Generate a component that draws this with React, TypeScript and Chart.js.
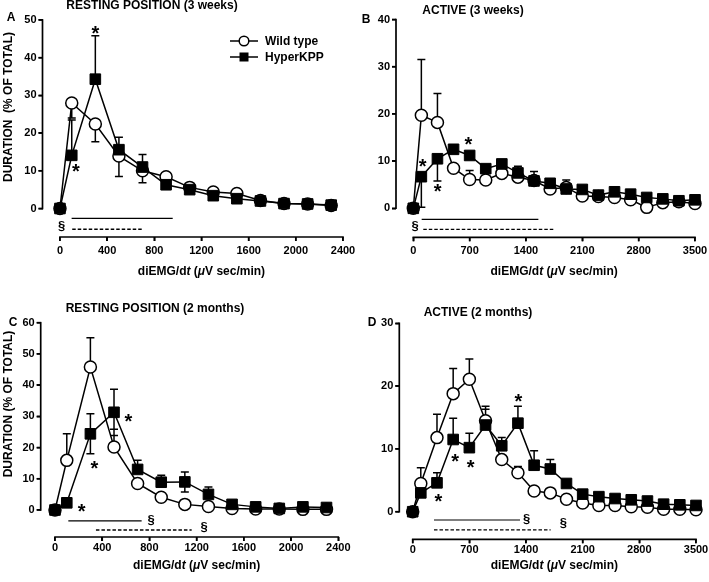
// Four-panel diEMG/dt duration figure (Wild type vs HyperKPP) - axes drawn as library datasets
import React, { useEffect, useRef } from "react";
import { Chart, registerables } from "chart.js";
Chart.register(...registerables);

const FONT = '"Liberation Sans", Arial, Helvetica, sans-serif';
const INK = "#000000";

// ---------- x positions & tick labels ----------
const xRest = [0, 100, 300, 500, 700, 900, 1100, 1300, 1500, 1700, 1900, 2100, 2300];
const xActive = [0, 100, 300, 500, 700, 900, 1100, 1300, 1500, 1700, 1900, 2100, 2300, 2500, 2700, 2900, 3100, 3300, 3500];
const xTicksRest = [0, 400, 800, 1200, 1600, 2000, 2400];
const xTicksActive = [0, 700, 1400, 2100, 2800, 3500];
const yTicksA = [0, 10, 20, 30, 40, 50];
const yTicksB = [0, 10, 20, 30, 40];
const yTicksC = [0, 10, 20, 30, 40, 50, 60];
const yTicksD = [0, 10, 20, 30];

// ---------- A: resting position, 3 weeks ----------
const aWild = [0, 28, 22.4, 13.9, 10, 8.4, 5.6, 4.4, 4.0, 2.1, 1.3, 1.2, 0.8];
const aWildLo = [null, 24, 17.7, 8.5, 6.8, null, null, null, null, null, null, null, null];
const aHyper = [0, 14.1, 34.3, 15.6, 11, 6.3, 5.0, 3.4, 2.6, 2.0, 1.3, 1.2, 0.9];
const aHyperHi = [null, 23.5, 45.8, 18.9, 14.3, null, null, null, null, null, null, null, null];

// ---------- B: active, 3 weeks ----------
const bWild = [0, 19.7, 18.2, 8.5, 6.1, 6.0, 7.4, 6.6, 5.9, 4.1, 4.4, 2.6, 2.5, 2.3, 1.8, 0.2, 1.2, 1.4, 1.0];
const bWildHi = [null, 31.5, 24.3, null, 8.0, null, null, null, null, null, 6.0, null, null, null, null, null, null, null, null];
const bHyper = [0, 6.7, 10.5, 12.5, 11.2, 8.4, 9.4, 7.5, 5.8, 5.3, 4.1, 4.0, 2.8, 3.5, 3.0, 2.3, 2.0, 1.6, 1.8];
const bHyperHi = [null, null, null, null, null, null, null, 8.9, 7.8, null, null, null, null, null, null, null, null, null, null];
const bHyperLo = [null, 0.2, 5.8, null, null, null, null, null, null, null, null, null, null, null, null, null, null, null, null];

// ---------- C: resting position, 2 months ----------
const cWild = [0, 15.9, 45.8, 20.2, 8.5, 4.1, 1.8, 1.1, 0.5, 0.3, 0.3, 0.2, 0.2];
const cWildHi = [null, 24.4, 55.2, 25.9, null, null, null, null, null, null, null, null, null];
const cHyper = [0, 2.3, 24.4, 31.3, 13.0, 8.9, 9.0, 5.0, 1.8, 1.0, 0.5, 1.0, 0.8];
const cHyperHi = [null, null, 30.8, 38.7, 15.9, 11.1, 12.2, 7.4, null, null, null, null, null];
const cHyperLo = [null, null, 18.0, 23.9, null, null, 5.8, null, null, null, null, null, null];

// ---------- D: active, 2 months ----------
const dWild = [0, 4.5, 11.8, 18.8, 21.1, 14.5, 8.3, 6.2, 3.3, 3.0, 2.0, 1.4, 1.0, 1.0, 0.8, 0.7, 0.4, 0.4, 0.3];
const dWildHi = [null, 7.0, 15.5, 22.8, 24.3, 16.3, null, 7.2, null, null, null, null, null, null, null, null, null, null, null];
const dHyper = [0, 3.0, 4.6, 11.5, 10.2, 13.8, 10.5, 14.1, 7.4, 6.8, 4.5, 2.8, 2.4, 2.1, 1.9, 1.7, 1.2, 1.1, 1.0];
const dHyperHi = [null, 4.0, 6.2, 14.9, 12.5, 16.8, 11.8, 16.8, 9.7, 8.3, null, null, null, null, null, null, null, null, null];

// ---------- significance annotations (data coordinates) ----------
const aStars = [[300, 47.8], [136, 11.1]];
const bStars = [[117, 9.9], [303, 4.6], [683, 14.6]];
const cStars = [[226, 1.2], [333, 15], [622, 29.9]];
const dStars = [[316, 2.5], [523, 8.8], [716, 7.8], [1305, 18.3]];

const aBars = [[99, 956, -2.6, 0], [104, 701, -5.5, 1]];
const bBars = [[104, 1554, -2.33, 0], [124, 1753, -4.45, 1]];
const cBars = [[113, 734, -3.5, 0], [347, 1158, -6.4, 1]];
const dBars = [[263, 1326, -1.32, 0], [263, 1704, -2.9, 1]];

const aSects = [[14, -4.8]];
const bSects = [[21, -3.9]];
const cSects = [[814, -3.2], [1263, -5.5]];
const dSects = [[1408, -1.3], [1861, -1.85]];

type Panel = {
  left: number; top: number; w: number; h: number;
  pad: { left: number; right: number; top: number; bottom: number };
  xMin: number; xMax: number; yMin: number; yMax: number;
  xs: number[]; xTicks: number[]; yTicks: number[];
  wild: number[]; wildHi?: (number | null)[]; wildLo?: (number | null)[];
  hyper: number[]; hyperHi?: (number | null)[]; hyperLo?: (number | null)[];
  stars: number[][]; bars: number[][]; sects: number[][];
  title: string; titleX: number; titleY: number;
  letter: string; letterX: number; letterY: number;
  yLabel?: string; yLabelX?: number; yLabelY?: number;
  xTitleY: number; tickPad: number; legend?: boolean;
};

const YW = 32;
const XH = 30;
const TICK = 4;

const panels: Panel[] = [
  {
    left: 0, top: 0, w: 355, h: 290,
    pad: { left: 42.5 - YW, right: 12, top: 20, bottom: 290 - 237 - XH },
    xMin: -148, xMax: 2400, yMin: -7.56, yMax: 50,
    xs: xRest, xTicks: xTicksRest, yTicks: yTicksA,
    wild: aWild, wildLo: aWildLo, hyper: aHyper, hyperHi: aHyperHi,
    stars: aStars, bars: aBars, sects: aSects,
    title: "RESTING POSITION (3 weeks)", titleX: 152, titleY: 6,
    letter: "A", letterX: 11, letterY: 18,
    yLabel: "DURATION  (% OF TOTAL)", yLabelX: 9, yLabelY: 107,
    xTitleY: 272, tickPad: 3, legend: true,
  },
  {
    left: 355, top: 0, w: 354, h: 290,
    pad: { left: 41 - YW, right: 14, top: 19.5, bottom: 290 - 237.3 - XH },
    xMin: -215, xMax: 3500, yMin: -6.14, yMax: 40,
    xs: xActive, xTicks: xTicksActive, yTicks: yTicksB,
    wild: bWild, wildHi: bWildHi, hyper: bHyper, hyperHi: bHyperHi, hyperLo: bHyperLo,
    stars: bStars, bars: bBars, sects: bSects,
    title: "ACTIVE (3 weeks)", titleX: 118, titleY: 11,
    letter: "B", letterX: 11, letterY: 20,
    xTitleY: 272, tickPad: 3,
  },
  {
    left: 0, top: 290, w: 355, h: 292,
    pad: { left: 40.7 - YW, right: 16.7, top: 32.7, bottom: 292 - 247 - XH },
    xMin: -121, xMax: 2400, yMin: -8.65, yMax: 60,
    xs: xRest, xTicks: xTicksRest, yTicks: yTicksC,
    wild: cWild, wildHi: cWildHi, hyper: cHyper, hyperHi: cHyperHi, hyperLo: cHyperLo,
    stars: cStars, bars: cBars, sects: cSects,
    title: "RESTING POSITION (2 months)", titleX: 155, titleY: 19,
    letter: "C", letterX: 13, letterY: 33,
    yLabel: "DURATION (% OF TOTAL)", yLabelX: 9, yLabelY: 114,
    xTitleY: 276, tickPad: 0,
  },
  {
    left: 355, top: 290, w: 354, h: 292,
    pad: { left: 44.3 - YW, right: 13, top: 33.3, bottom: 292 - 249.3 - XH },
    xMin: -165.6, xMax: 3500, yMin: -4.39, yMax: 30,
    xs: xActive, xTicks: xTicksActive, yTicks: yTicksD,
    wild: dWild, wildHi: dWildHi, hyper: dHyper, hyperHi: dHyperHi,
    stars: dStars, bars: dBars, sects: dSects,
    title: "ACTIVE (2 months)", titleX: 123, titleY: 23,
    letter: "D", letterX: 17, letterY: 33,
    xTitleY: 276, tickPad: 0,
  },
];

function font(size: number, italic = false) {
  return `${italic ? "italic " : ""}bold ${size}px ${FONT}`;
}

function drawErrorBars(c: any, p: Panel) {
  const ctx = c.ctx;
  const xs = c.scales.x;
  const ys = c.scales.y;
  ctx.save();
  ctx.strokeStyle = INK;
  ctx.lineWidth = 1.5;
  const groups: [number[], ((number | null)[] | undefined)][] = [
    [p.wild, p.wildHi], [p.wild, p.wildLo], [p.hyper, p.hyperHi], [p.hyper, p.hyperLo],
  ];
  ctx.beginPath();
  for (const [vals, bounds] of groups) {
    if (!bounds) continue;
    bounds.forEach((b, i) => {
      if (b == null) return;
      const px = xs.getPixelForValue(p.xs[i]);
      const p0 = ys.getPixelForValue(vals[i]);
      const p1 = ys.getPixelForValue(b);
      ctx.moveTo(px, p0);
      ctx.lineTo(px, p1);
      ctx.moveTo(px - 4, p1);
      ctx.lineTo(px + 4, p1);
    });
  }
  ctx.stroke();
  ctx.restore();
}

function drawNotes(c: any, p: Panel) {
  const ctx = c.ctx;
  const xs = c.scales.x;
  const ys = c.scales.y;
  ctx.save();
  ctx.fillStyle = INK;
  ctx.strokeStyle = INK;
  for (const [x0, x1, y, dashed] of p.bars) {
    ctx.save();
    ctx.lineWidth = dashed ? 1.3 : 1.2;
    ctx.setLineDash(dashed ? [3.5, 2] : []);
    const py = ys.getPixelForValue(y);
    ctx.beginPath();
    ctx.moveTo(xs.getPixelForValue(x0), py);
    ctx.lineTo(xs.getPixelForValue(x1), py);
    ctx.stroke();
    ctx.restore();
  }
  ctx.font = font(13);
  ctx.textAlign = "center";
  ctx.textBaseline = "middle";
  for (const [x, y] of p.sects) {
    ctx.fillText("§", xs.getPixelForValue(x), ys.getPixelForValue(y));
  }
  const s = 20;
  ctx.font = font(s);
  ctx.textBaseline = "alphabetic";
  for (const [x, y] of p.stars) {
    ctx.fillText("*", xs.getPixelForValue(x), ys.getPixelForValue(y) + 0.58 * s);
  }

  ctx.font = font(12);
  ctx.textAlign = "center";
  ctx.textBaseline = "middle";
  ctx.fillText(p.title, p.titleX, p.titleY);
  ctx.fillText(p.letter, p.letterX, p.letterY);

  if (p.yLabel) {
    ctx.save();
    ctx.translate(p.yLabelX!, p.yLabelY!);
    ctx.rotate(-Math.PI / 2);
    ctx.fillText(p.yLabel, 0, 0);
    ctx.restore();
  }

  const segs: [string, boolean][] = [["diEMG/d", false], ["t", true], [" (", false], ["\u03BC", true], ["V sec/min)", false]];
  let total = 0;
  for (const [t, it] of segs) { ctx.font = font(12, it); total += ctx.measureText(t).width; }
  const cx = (xs.getPixelForValue(0) + xs.getPixelForValue(p.xMax)) / 2;
  let tx = cx - total / 2;
  ctx.textAlign = "left";
  for (const [t, it] of segs) {
    ctx.font = font(12, it);
    ctx.fillText(t, tx, p.xTitleY);
    tx += ctx.measureText(t).width;
  }

  if (p.legend) {
    const rows: [string, string, number][] = [["Wild type", "circle", 41], ["HyperKPP", "rect", 57]];
    for (const [label, style, y] of rows) {
      ctx.lineWidth = 1.5;
      ctx.strokeStyle = INK;
      ctx.beginPath();
      ctx.moveTo(230, y);
      ctx.lineTo(258, y);
      ctx.stroke();
      if (style === "circle") {
        ctx.beginPath();
        ctx.arc(244, y, 4.8, 0, Math.PI * 2);
        ctx.fillStyle = "#ffffff";
        ctx.fill();
        ctx.stroke();
      } else {
        ctx.fillStyle = INK;
        ctx.fillRect(239.5, y - 4.5, 9, 9);
      }
      ctx.fillStyle = INK;
      ctx.font = font(12);
      ctx.textAlign = "left";
      ctx.textBaseline = "middle";
      ctx.fillText(label, 265, y + 0.5);
    }
  }
  ctx.restore();
}

// Axis lines and tick marks as plain line datasets on the same scales
function axisDatasets(p: Panel): any[] {
  const plotW = p.w - p.pad.left - YW - p.pad.right;
  const plotH = p.h - p.pad.top - p.pad.bottom - XH;
  const xPerPx = (p.xMax - p.xMin) / plotW;
  const yPerPx = (p.yMax - p.yMin) / plotH;
  const segments: { x: number; y: number }[][] = [];
  segments.push([{ x: p.xMin, y: 0 - 0.8 * yPerPx }, { x: p.xMin, y: p.yMax + 0.8 * yPerPx }]);
  segments.push([{ x: 0 - 0.8 * xPerPx, y: p.yMin }, { x: p.xMax + 0.8 * xPerPx, y: p.yMin }]);
  for (const v of p.yTicks) {
    segments.push([{ x: p.xMin - TICK * xPerPx, y: v }, { x: p.xMin, y: v }]);
  }
  for (const v of p.xTicks) {
    segments.push([{ x: v, y: p.yMin }, { x: v, y: p.yMin - TICK * yPerPx }]);
  }
  return segments.map((data, i) => ({
    label: `axis-${i}`,
    data,
    showLine: true,
    borderColor: INK,
    backgroundColor: INK,
    borderWidth: 1.7,
    pointRadius: 0,
    pointHoverRadius: 0,
    clip: false,
    order: 10,
  }));
}

function buildConfig(p: Panel): any {
  const toPts = (vals: number[]) => vals.map((v, i) => ({ x: p.xs[i], y: v }));
  const tickFont = { family: FONT, size: 11, weight: "bold" };
  return {
    type: "scatter",
    data: {
      datasets: [
        {
          label: "HyperKPP",
          data: toPts(p.hyper),
          showLine: true,
          borderColor: INK,
          backgroundColor: INK,
          borderWidth: 1.5,
          pointStyle: "rect",
          pointRadius: 7.5,
          pointBackgroundColor: INK,
          pointBorderColor: INK,
          pointBorderWidth: 1,
          clip: false,
          order: 0,
        },
        {
          label: "Wild type",
          data: toPts(p.wild),
          showLine: true,
          borderColor: INK,
          backgroundColor: "#ffffff",
          borderWidth: 1.5,
          pointStyle: "circle",
          pointRadius: 6,
          pointBackgroundColor: "#ffffff",
          pointBorderColor: INK,
          pointBorderWidth: 1.5,
          clip: false,
          order: 1,
        },
        ...axisDatasets(p),
      ],
    },
    options: {
      animation: false,
      responsive: false,
      devicePixelRatio: 1,
      layout: { padding: p.pad },
      plugins: { legend: { display: false }, tooltip: { enabled: false } },
      scales: {
        x: {
          type: "linear",
          min: p.xMin,
          max: p.xMax,
          afterBuildTicks: (s: any) => { s.ticks = p.xTicks.map((v) => ({ value: v })); },
          afterFit: (s: any) => { s.height = XH; s.paddingLeft = 0; s.paddingRight = 0; },
          grid: { drawOnChartArea: false, tickLength: TICK, color: INK, lineWidth: 1.5 },
          border: { display: false },
          ticks: { color: INK, font: tickFont, padding: p.tickPad, maxRotation: 0, autoSkip: false, callback: (v: any) => String(v) },
        },
        y: {
          type: "linear",
          min: p.yMin,
          max: p.yMax,
          afterBuildTicks: (s: any) => { s.ticks = p.yTicks.map((v) => ({ value: v })); },
          afterFit: (s: any) => { s.width = YW; s.paddingTop = 0; s.paddingBottom = 0; },
          grid: { drawOnChartArea: false, tickLength: TICK, color: INK, lineWidth: 1.5 },
          border: { display: false },
          ticks: { color: INK, font: tickFont, padding: 2, autoSkip: false, callback: (v: any) => String(v) },
        },
      },
    },
    plugins: [
      {
        id: "panelDecor",
        beforeDatasetsDraw(c: any) { drawErrorBars(c, p); },
        afterDraw(c: any) { drawNotes(c, p); },
      },
    ],
  };
}

function PanelChart({ p }: { p: Panel }) {
  const ref = useRef<HTMLCanvasElement | null>(null);
  useEffect(() => {
    const chart = new Chart(ref.current!, buildConfig(p));
    return () => chart.destroy();
  }, []);
  return (
    <div style={{ position: "absolute", left: p.left, top: p.top, width: p.w, height: p.h }}>
      <canvas ref={ref} width={p.w} height={p.h} style={{ display: "block", width: p.w, height: p.h }} />
    </div>
  );
}

export default function App() {
  return (
    <div style={{ position: "absolute", left: 0, top: 0, width: 709, height: 582, background: "#ffffff" }}>
      {panels.map((p, i) => (
        <PanelChart key={i} p={p} />
      ))}
    </div>
  );
}
